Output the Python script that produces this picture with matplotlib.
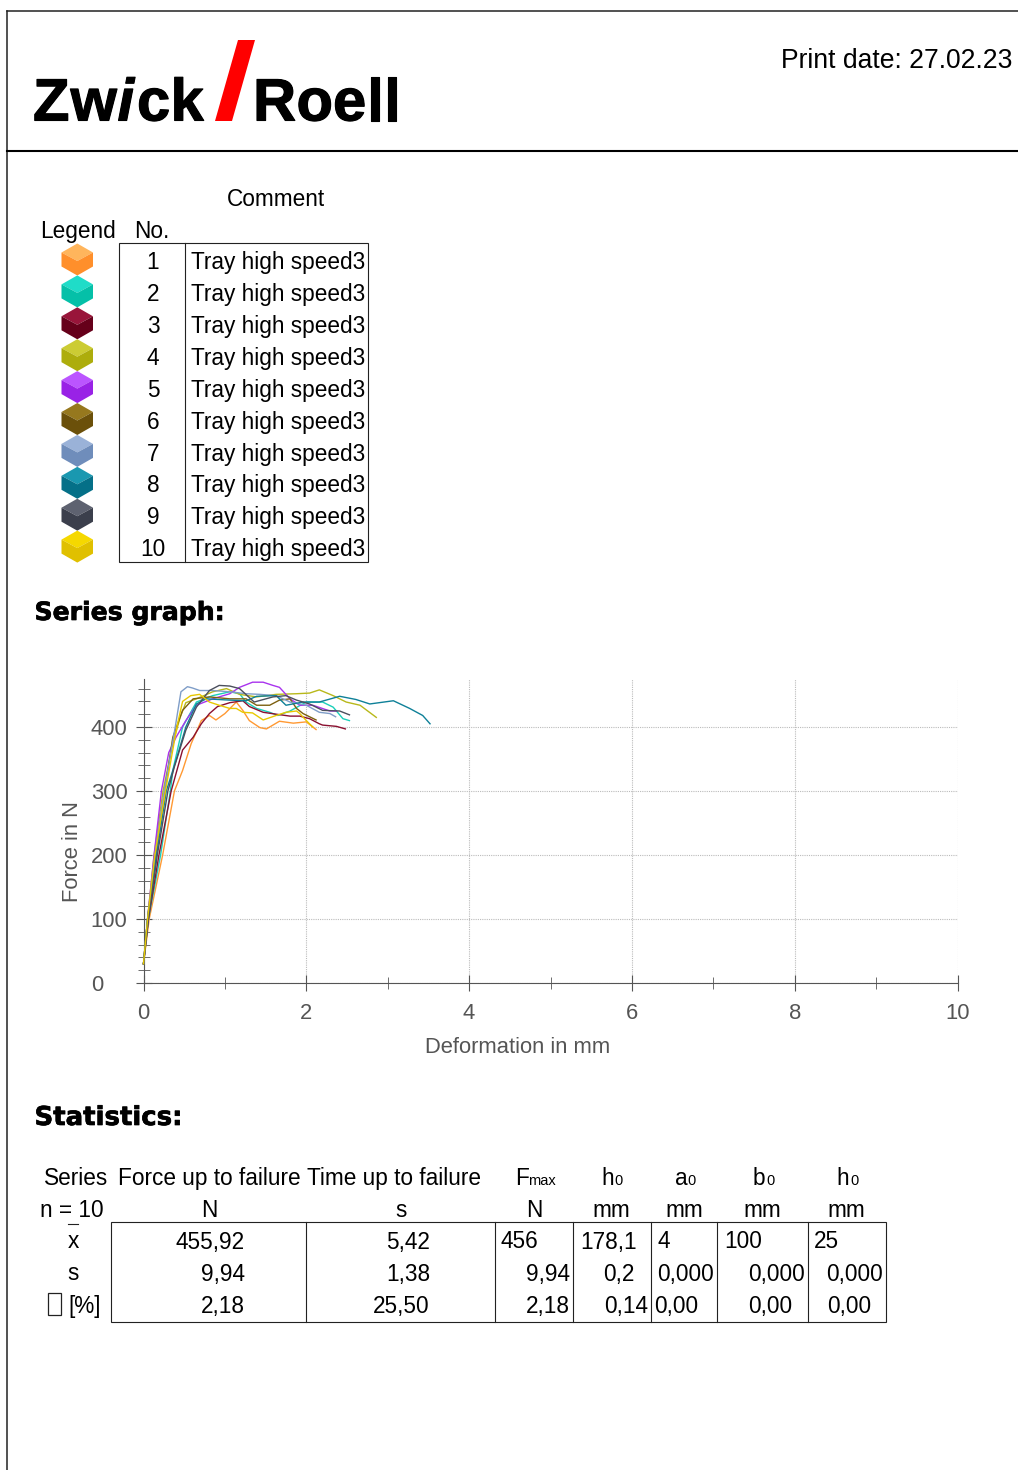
import matplotlib
matplotlib.use("Agg")
import matplotlib.pyplot as plt
import matplotlib.patheffects as pe
from matplotlib.patches import Polygon, Rectangle

plt.rcParams['font.family'] = ['Liberation Sans', 'DejaVu Sans']

# curves, deformation in mm / force in N
x1 = [0, .07, .235, .38, .48, .586, .71, .81, .89, 1.0, 1.14, 1.22, 1.30, 1.43, 1.51, 1.67, 1.84, 2.0, 2.12]
y1 = [30, 100, 200, 300, 332, 374, 410, 418, 411, 421, 439, 426, 410, 399, 397, 409, 406, 408, 396]
x2 = [0, .06, .21, .33, .36, .48, .65, .85, 1.06, 1.18, 1.26, 1.39, 1.55, 1.65, 1.80, 2.0, 2.2, 2.33, 2.45, 2.53]
y2 = [30, 100, 200, 300, 332, 400, 439, 449, 455, 452, 439, 429, 423, 418, 425, 439, 439, 431, 413, 410]
x3 = [0, .06, .19, .34, .48, .61, .71, .81, .91, 1.06, 1.22, 1.30, 1.47, 1.63, 1.80, 1.92, 2.04, 2.16, 2.2, 2.37, 2.48]
y3 = [30, 100, 200, 300, 364, 384, 405, 421, 432, 438, 441, 432, 423, 420, 417, 417, 413, 405, 403, 401, 397]
x4 = [0, .05, .13, .24, .36, .45, .52, .65, .85, 1.02, 1.18, 1.39, 1.63, 1.88, 2.04, 2.16, 2.33, 2.49, 2.66, 2.86]
y4 = [30, 100, 200, 300, 374, 415, 438, 444, 455, 460, 451, 447, 451, 452, 453, 458, 449, 439, 434, 415]
x5 = [0, .05, .13, .22, .31, .40, .52, .65, .85, 1.06, 1.18, 1.34, 1.47, 1.59, 1.67, 1.80, 1.92, 2.08, 2.29, 2.37]
y5 = [30, 100, 200, 300, 360, 384, 410, 434, 444, 452, 462, 470, 470, 465, 462, 444, 434, 434, 425, 425]
x6 = [0, .05, .15, .26, .36, .48, .61, .81, 1.06, 1.26, 1.39, 1.55, 1.67, 1.80, 1.88, 1.96, 2.12]
y6 = [30, 100, 200, 300, 384, 426, 444, 447, 444, 444, 434, 434, 442, 444, 429, 421, 411]
x7 = [0, .05, .14, .255, .39, .46, .54, .60, .69, .85, 1.06, 1.26, 1.43, 1.63, 1.80, 2.0, 2.16, 2.29, 2.36]
y7 = [30, 100, 200, 300, 400, 455, 463, 461, 457, 457, 455, 452, 451, 449, 439, 434, 423, 421, 416]
x8 = [0, .05, .16, .28, .40, .52, .65, .77, 1.06, 1.26, 1.39, 1.63, 1.75, 1.96, 2.16, 2.41, 2.61, 2.78, 3.07, 3.27, 3.43, 3.52]
y8 = [30, 100, 200, 300, 348, 400, 436, 444, 442, 441, 448, 449, 434, 439, 439, 448, 443, 436, 441, 429, 418, 405]
x9 = [0, .06, .17, .30, .38, .52, .65, .81, .93, 1.06, 1.18, 1.36, 1.59, 1.75, 1.88, 2.04, 2.2, 2.41, 2.53]
y9 = [30, 100, 200, 300, 338, 395, 431, 457, 465, 464, 460, 439, 447, 449, 442, 436, 426, 425, 419]
x10 = [0, .05, .14, .27, .41, .48, .58, .69, .81, .93, 1.06, 1.14, 1.22, 1.34, 1.47, 1.63, 1.75, 1.88, 1.92, 2.0, 2.08]
y10 = [30, 100, 200, 300, 400, 440, 449, 451, 439, 434, 429, 429, 423, 422, 411, 418, 423, 425, 421, 410, 400]

curves = [(x1, y1), (x2, y2), (x3, y3), (x4, y4), (x5, y5), (x6, y6), (x7, y7), (x8, y8), (x9, y9), (x10, y10)]
colors = ['#FF9933', '#1ACFB9', '#8A1030', '#B8B81A', '#A933EE', '#7D6010', '#7F9DC8', '#0E8098', '#4B4F5C', '#E8C800']
tops = ['#FFB55C', '#1FDCC8', '#99153A', '#CCCC33', '#BB55FF', '#96781E', '#9AB2D8', '#1A98B0', '#5E6270', '#F5D800']
sides = ['#FF8F2B', '#05C0A8', '#66001A', '#ADAD0C', '#9922E6', '#6B500A', '#6F8DBB', '#057088', '#3B3F4C', '#E0C000']

comment = 'Tray high speed3'
numbers = ['1', '2', '3', '4', '5', '6', '7', '8', '9', '10']

force = ['455,92', '9,94', '2,18']
times = ['5,42', '1,38', '25,50']
fmax = ['456', '9,94', '2,18']
h0a = ['178,1', '0,2', '0,14']
a0 = ['4', '0,000', '0,00']
b0 = ['100', '0,000', '0,00']
h0b = ['25', '0,000', '0,00']

fig = plt.figure(figsize=(10.18, 14.7), dpi=100)

# page furniture, in pixels
pg = fig.add_axes([0, 0, 1, 1])
pg.set_xlim(0, 1018)
pg.set_ylim(1470, 0)
pg.axis('off')

pg.plot([7, 1018], [11, 11], color='#222222', lw=1.1)
pg.plot([7, 7], [11, 1470], color='#222222', lw=1.1)
pg.plot([7, 1018], [151, 151], color='black', lw=1.5)

# logo
logo_fx = [pe.withStroke(linewidth=0.8, foreground='black')]
for ch, px in zip('Zw', [33, 70.5]):
    pg.text(px, 120.5, ch, fontsize=43, fontweight='bold', color='black', path_effects=logo_fx)
pg.text(117.5, 120.5, 'i', fontsize=43, fontweight='bold', style='italic', color='black', path_effects=logo_fx)
for ch, px in zip('ck', [137, 170.5]):
    pg.text(px, 120.5, ch, fontsize=43, fontweight='bold', color='black', path_effects=logo_fx)
for ch, px in zip('Roell', [253, 296.5, 333, 367, 384]):
    pg.text(px, 120.5, ch, fontsize=43, fontweight='bold', color='black', path_effects=logo_fx)
pg.add_patch(Polygon([(238, 40), (255, 40), (232, 121), (215, 121)], color='#FF0000', lw=0))

pg.text(1012, 67.5, 'Print date: 27.02.23', fontsize=19.1, ha='right')

# legend table
pg.text(276, 205.5, 'Comment', fontsize=16.3, ha='center')
pg.text(78, 237.5, 'Legend', fontsize=16.3, ha='center')
pg.text(152, 237.5, 'No.', fontsize=16.3, ha='center')
pg.add_patch(Rectangle((119.5, 243), 248.5, 319, fill=False, ec='#222222', lw=0.8))
pg.plot([185, 185], [243, 562], color='#222222', lw=0.8)
for i, n in enumerate(numbers):
    yc = 259.5 + i * 31.9
    pg.text(153, yc + 9.6, n, fontsize=16.3, ha='center')
    pg.text(191.5, yc + 9.6, comment, fontsize=16.3)
    pg.add_patch(Polygon([(77.3, yc - 16), (93, yc - 7), (77.3, yc + 1.5), (61.5, yc - 7)], color=tops[i], lw=0))
    pg.add_patch(Polygon([(61.5, yc - 7), (77.3, yc + 1.5), (93, yc - 7), (93, yc + 7), (77.3, yc + 16), (61.5, yc + 7)], color=sides[i], lw=0))

heavy = [pe.withStroke(linewidth=0.5, foreground='black')]
pg.text(34.5, 620, 'Series graph:', fontsize=18.1, fontweight='bold', family='DejaVu Sans', path_effects=heavy)
pg.text(34.5, 1125, 'Statistics:', fontsize=18.7, fontweight='bold', family='DejaVu Sans', path_effects=heavy)

# statistics table
for txt, px in [('Series', 76), ('Force up to failure', 209), ('Time up to failure', 394),
                ('h', 608), ('a', 681), ('b', 759), ('h', 843)]:
    pg.text(px, 1185, txt, fontsize=16.3, ha='center')
pg.text(515, 1185, 'F', fontsize=16.3)
pg.text(528.5, 1185, 'max', fontsize=10.5)
for px in [614.5, 687.5, 766, 850.5]:
    pg.text(px, 1185, '0', fontsize=10.5)
for txt, px in [('n = 10', 72), ('N', 209), ('s', 401), ('N', 534), ('mm', 611), ('mm', 684), ('mm', 762), ('mm', 846)]:
    pg.text(px, 1217, txt, fontsize=16.3, ha='center')
pg.text(73, 1248.5, 'x', fontsize=16.3, ha='center')
pg.plot([68, 78], [1224, 1224], color='#222222', lw=0.8)
pg.text(73, 1280.5, 's', fontsize=16.3, ha='center')
pg.add_patch(Rectangle((48, 1293), 13, 22, fill=False, ec='#222222', lw=0.9))
pg.text(68, 1312.5, '[%]', fontsize=16.3)

pg.add_patch(Rectangle((111, 1222), 775.5, 100, fill=False, ec='#222222', lw=0.8))
for px in [306, 495, 573.5, 651.5, 717.5, 808]:
    pg.plot([px, px], [1222, 1322], color='#222222', lw=0.8)

rows = [1248.5, 1280.5, 1312.5]
for j, yb in enumerate(rows):
    pg.text(245, yb, force[j], fontsize=16.3, ha='right')
    pg.text(430, yb, times[j], fontsize=16.3, ha='right')
pg.text(501, rows[0], fmax[0], fontsize=16.3)
pg.text(570, rows[1], fmax[1], fontsize=16.3, ha='right')
pg.text(570, rows[2], fmax[2], fontsize=16.3, ha='right')
pg.text(580, rows[0], h0a[0], fontsize=16.3)
pg.text(635, rows[1], h0a[1], fontsize=16.3, ha='right')
pg.text(648, rows[2], h0a[2], fontsize=16.3, ha='right')
pg.text(657.5, rows[0], a0[0], fontsize=16.3)
pg.text(657.5, rows[1], a0[1], fontsize=16.3)
pg.text(654.5, rows[2], a0[2], fontsize=16.3)
pg.text(724, rows[0], b0[0], fontsize=16.3)
pg.text(805, rows[1], b0[1], fontsize=16.3, ha='right')
pg.text(792, rows[2], b0[2], fontsize=16.3, ha='right')
pg.text(814, rows[0], h0b[0], fontsize=16.3)
pg.text(883, rows[1], h0b[1], fontsize=16.3, ha='right')
pg.text(871, rows[2], h0b[2], fontsize=16.3, ha='right')

# the graph itself
ax = fig.add_axes([143.5 / 1018, 1 - 983 / 1470, 814 / 1018, 304 / 1470])
ax.patch.set_alpha(0)
ax.set_xlim(0, 10)
ax.set_ylim(0, 475)
ax.spines['top'].set_visible(False)
ax.spines['right'].set_visible(False)
ax.spines['left'].set_color('#555555')
ax.spines['bottom'].set_color('#555555')

for (x, y), c in zip(curves, colors):
    ax.plot(x, y, color=c, lw=1.0, clip_on=False, zorder=3)

ax.set_xticks(range(0, 11, 2))
ax.set_xticks(range(1, 10, 2), minor=True)
ax.set_yticks([0, 100, 200, 300, 400])
ax.set_yticks([v for v in range(20, 461, 20) if v % 100], minor=True)
ax.grid(True, which='major', color='#BBBBBB', ls=(0, (1, 1)), lw=0.8)
ax.tick_params(which='major', direction='inout', length=11, color='#555555', labelsize=15.8, labelcolor='#555555')
ax.tick_params(which='minor', direction='inout', length=8, color='#555555')
ax.tick_params(axis='y', which='major', pad=32.5)
ax.tick_params(axis='x', which='major', pad=9)
for lab in ax.get_yticklabels():
    lab.set_ha('left')

ax.set_xlabel('Deformation in mm', fontsize=15.8, color='#555555')
ax.xaxis.set_label_coords((518 - 143.5) / 814, (983 - 1037) / 304)
ax.set_ylabel('Force in N', fontsize=15.8, color='#555555')
ax.yaxis.set_label_coords((83 - 143.5) / 814, (983 - 852) / 304)

fig.savefig('out.png', dpi=100)
